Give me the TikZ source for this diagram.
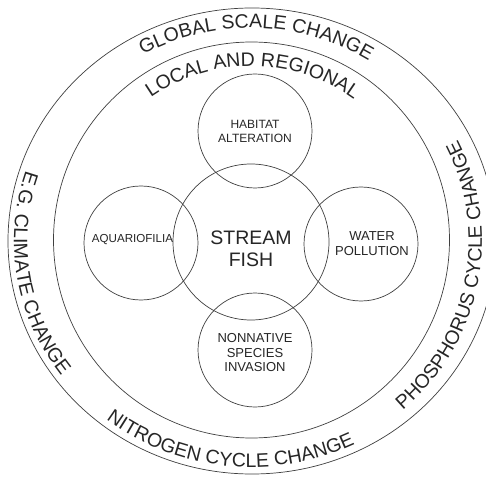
\documentclass[tikz,border=0pt]{standalone}
\usepackage{fontspec}
\setmainfont{Liberation Sans}
\usetikzlibrary{positioning}
\usetikzlibrary{decorations.text}

\begin{document}
\begin{tikzpicture}[
	x=1pt, y=1pt,
	ring/.style={draw=black!75, line width=0.7pt},
	blob/.style={circle, draw=black!75, line width=0.7pt, inner sep=0pt, minimum size=114pt},
	tag/.style={align=center, text=black!85, font=\fontsize{12.5}{14.5}\selectfont},
	curved/.style={decorate, decoration={text along path, text align=center, text color=black!85, text={|\fontsize{19.5}{20}\selectfont|#1}}},
]

\useasboundingbox (-251,-240) rectangle (235,241);
\clip (-251,-240) rectangle (235,241);
\fill[white] (-251,-240) rectangle (235,241);

% rings
\draw[ring] (1,0) ellipse [x radius=244, y radius=233];
\draw[ring] (0.5,1) circle [radius=198];

% inner circles
\node[blob, minimum size=156pt] (fish) at (0,-1) {};
\node[blob] (habitat) at (4,110) {};
\node[blob] (water) at (110,-3) {};
\node[blob] (nonnative) at (4,-109) {};
\node[blob] (aqua) at (-110,-2) {};

\node[tag, font=\fontsize{19.5}{22}\selectfont] (fishtxt) at ([yshift=-7pt]fish.center) {STREAM\\FISH};
\node[tag, font=\fontsize{12}{14}\selectfont] (habitattxt) at (habitat.center) {HABITAT\\ALTERATION};
\node[tag, font=\fontsize{13}{15}\selectfont] (watertxt) at ([xshift=11pt]water.center) {WATER\\POLLUTION};
\node[tag, font=\fontsize{13}{14.5}\selectfont] (nonnativetxt) at ([yshift=-3pt]nonnative.center) {NONNATIVE\\SPECIES\\INVASION};
\node[tag, font=\fontsize{11.6}{14}\selectfont] (aquatxt) at ([xshift=-8.5pt, yshift=3pt]aqua.center) {AQUARIOFILIA};

% texts along the rings
\path[curved={GLOBAL SCALE CHANGE}] (158.5:222 and 213) arc [start angle=158.5, end angle=18.5, x radius=222, y radius=213];
\path[curved={LOCAL AND REGIONAL}] (159.4:175 and 175) arc [start angle=159.4, end angle=19.4, radius=175];
\path[curved={E.G. CLIMATE CHANGE}] (119:237 and 225) arc [start angle=119, end angle=259, x radius=237, y radius=225];
\path[curved={NITROGEN CYCLE CHANGE}] (194:237 and 226) arc [start angle=194, end angle=334, x radius=237, y radius=226];
\path[curved={PHOSPHORUS CYCLE CHANGE}] (279:231 and 225) arc [start angle=279, end angle=419, x radius=231, y radius=225];
\end{tikzpicture}
\end{document}
